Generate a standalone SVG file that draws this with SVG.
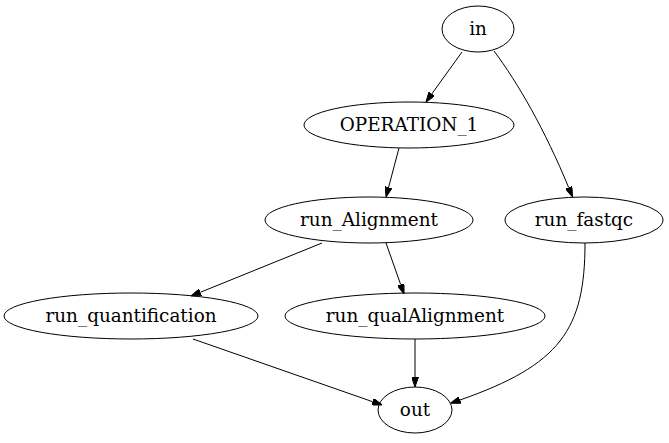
<svg xmlns="http://www.w3.org/2000/svg" width="669" height="443" viewBox="0 0 669 443">
  <style>
    .node ellipse { fill: none; stroke: #000; stroke-width: 1; }
    .node text { font-family: "DejaVu Serif", "Liberation Serif", serif; font-size: 18.4px; text-anchor: middle; fill: #000; }
    .edge { fill: none; stroke: #000; stroke-width: 1; marker-end: url(#arrow); }
  </style>
  <defs>
    <marker id="arrow" viewBox="0 0 10 7" refX="0" refY="3.5" markerWidth="10" markerHeight="7" markerUnits="userSpaceOnUse" orient="auto">
      <path d="M0,0 L10,3.5 L0,7 z" fill="#000" stroke="#000"/>
    </marker>
  </defs>
  <rect width="669" height="443" fill="#fff"/>

  <g id="edges">
    <path class="edge" d="M462,52 L431.8,93.9"/>
    <path class="edge" d="M494,51 C518,83 545,130 568.7,187.6"/>
    <path class="edge" d="M399,148 L388.6,187.3"/>
    <path class="edge" d="M322,243 L200.3,292.3"/>
    <path class="edge" d="M386,243 L400.7,284.6"/>
    <path class="edge" d="M193,339 L372.6,401.7"/>
    <path class="edge" d="M415,339 L415,377"/>
    <path class="edge" d="M585,243 C585,330 560,365 460,400"/>
  </g>

  <g id="in" class="node">
    <ellipse cx="478" cy="29" rx="36" ry="23"/>
    <text x="478" y="35">in</text>
  </g>
  <g id="OPERATION_1" class="node">
    <ellipse cx="409" cy="125" rx="105" ry="23"/>
    <text x="409" y="131">OPERATION_1</text>
  </g>
  <g id="run_Alignment" class="node">
    <ellipse cx="369" cy="220" rx="104" ry="23"/>
    <text x="369" y="226">run_Alignment</text>
  </g>
  <g id="run_fastqc" class="node">
    <ellipse cx="584" cy="220" rx="79" ry="23"/>
    <text x="584" y="226">run_fastqc</text>
  </g>
  <g id="run_quantification" class="node">
    <ellipse cx="131" cy="316" rx="127" ry="23"/>
    <text x="131" y="322">run_quantification</text>
  </g>
  <g id="run_qualAlignment" class="node">
    <ellipse cx="415" cy="316" rx="130" ry="23"/>
    <text x="415" y="322">run_qualAlignment</text>
  </g>
  <g id="out" class="node">
    <ellipse cx="415" cy="410" rx="37" ry="23"/>
    <text x="415" y="416">out</text>
  </g>
</svg>
